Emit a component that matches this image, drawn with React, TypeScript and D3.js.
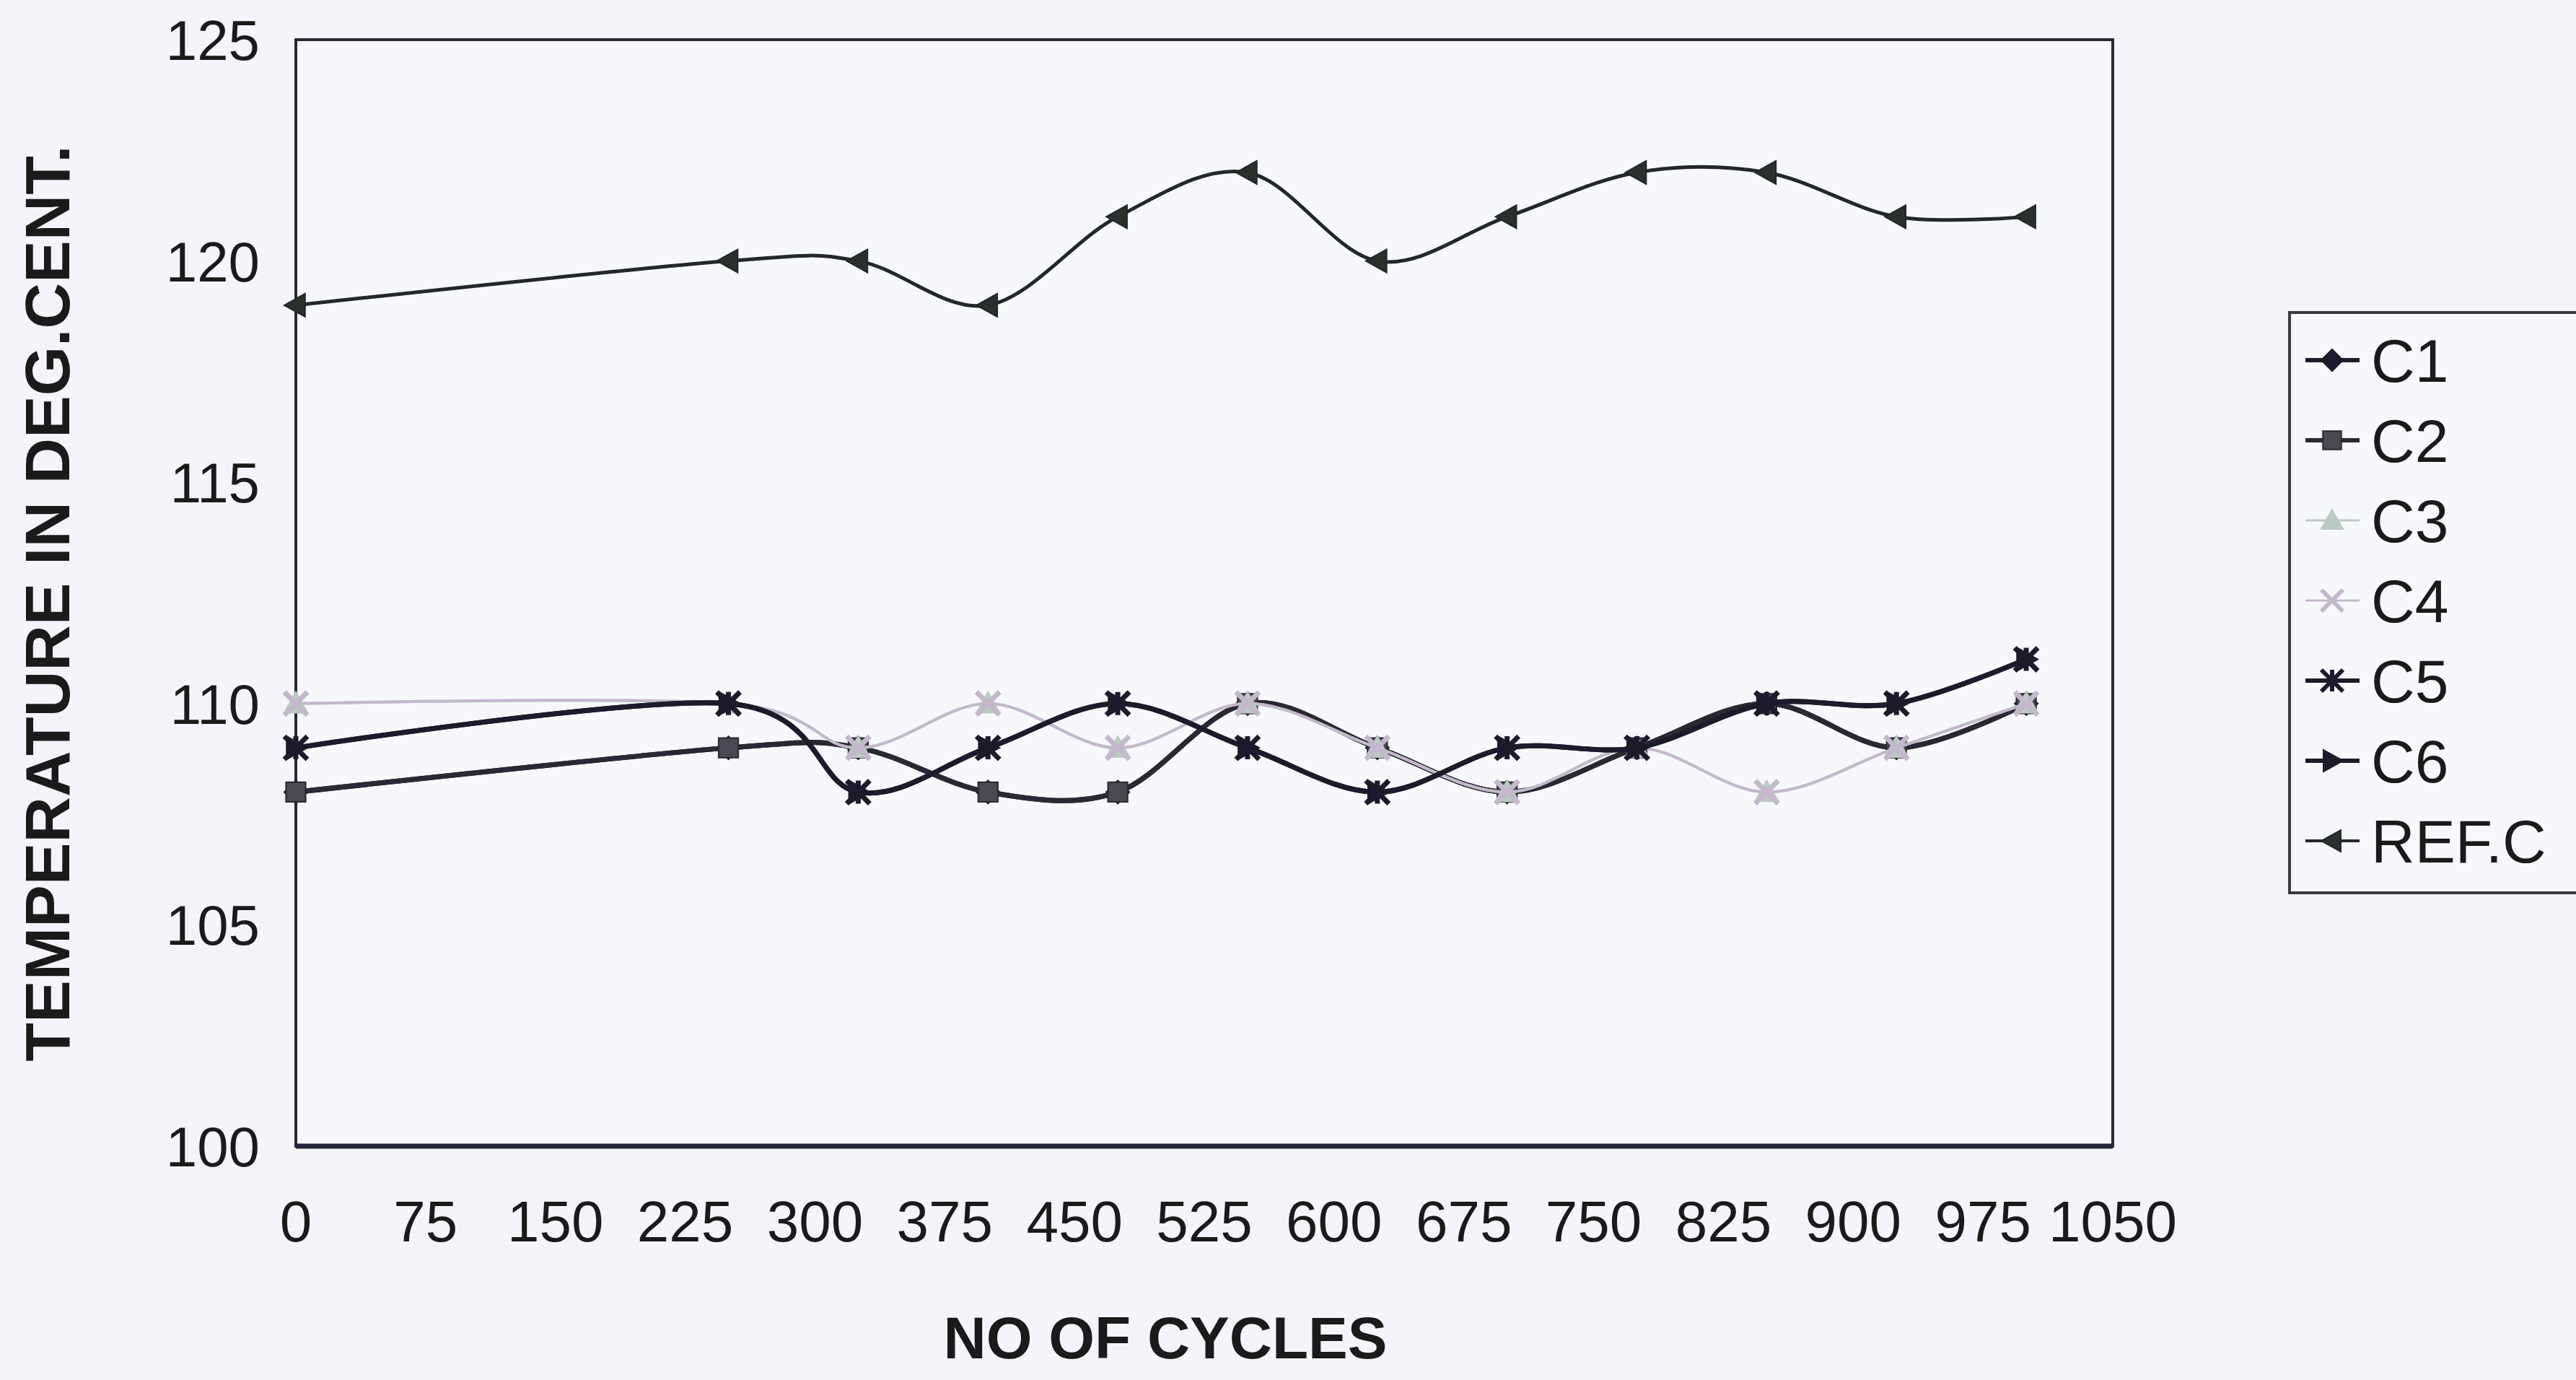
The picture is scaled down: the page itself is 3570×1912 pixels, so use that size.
import React, { useEffect, useRef } from 'react';
import * as d3 from 'd3';

// cycles at which readings were taken
const cycles = [0, 250, 325, 400, 475, 550, 625, 700, 775, 850, 925, 1000];
const xTicks = [0, 75, 150, 225, 300, 375, 450, 525, 600, 675, 750, 825, 900, 975, 1050];
const yTicks = [100, 105, 110, 115, 120, 125];

// temperature readings (deg C)
const c1 = [108, 109, 109, 108, 108, 110, 109, 108, 109, 110, 109, 110];
const c2 = [108, 109, 109, 108, 108, 110, 109, 108, 109, 110, 109, 110];
const c3 = [110, 110, 109, 110, 109, 110, 109, 108, 109, 108, 109, 110];
const c4 = [110, 110, 109, 110, 109, 110, 109, 108, 109, 108, 109, 110];
const c5 = [109, 110, 108, 109, 110, 109, 108, 109, 109, 110, 110, 111];
const c6 = [109, 110, 108, 109, 110, 109, 108, 109, 109, 110, 110, 111];
const refC = [119, 120, 120, 119, 121, 122, 120, 121, 122, 122, 121, 121];

const seriesNames = ['C1', 'C2', 'C3', 'C4', 'C5', 'C6', 'REF.C'];
const seriesValues = [c1, c2, c3, c4, c5, c6, refC];

const W = 3570;
const H = 1912;
const FONT = '"Liberation Sans", Arial, Helvetica, sans-serif';

type Marker = 'diamond' | 'square' | 'triangle' | 'x' | 'star' | 'right' | 'left';

const styles: { color: string; fill: string; width: number; marker: Marker }[] = [
  { color: '#1d1b2b', fill: '#1d1b2b', width: 7, marker: 'diamond' },
  { color: '#2a2833', fill: '#4a4850', width: 7, marker: 'square' },
  { color: '#bccac4', fill: '#bccac4', width: 4, marker: 'triangle' },
  { color: '#c4b8cc', fill: 'none', width: 4, marker: 'x' },
  { color: '#1d1b2b', fill: 'none', width: 7, marker: 'star' },
  { color: '#1d1b2b', fill: '#1d1b2b', width: 7, marker: 'right' },
  { color: '#23262a', fill: '#2b302c', width: 5, marker: 'left' },
];

const markerPath = (m: Marker, s: number) => {
  switch (m) {
    case 'diamond': return `M0,${-s}L${s},0L0,${s}L${-s},0Z`;
    case 'square': return `M${-s * 0.85},${-s * 0.85}H${s * 0.85}V${s * 0.85}H${-s * 0.85}Z`;
    case 'triangle': return `M0,${-s}L${s},${s * 0.8}L${-s},${s * 0.8}Z`;
    case 'x': return `M${-s},${-s}L${s},${s}M${s},${-s}L${-s},${s}`;
    case 'star': return `M${-s},${-s}L${s},${s}M${s},${-s}L${-s},${s}M0,${-s}V${s}`;
    case 'right': return `M${-s * 0.8},${-s}L${s},0L${-s * 0.8},${s}Z`;
    case 'left': return `M${s * 0.8},${-s}L${-s},0L${s * 0.8},${s}Z`;
  }
};

const isStroked = (m: Marker) => m === 'x' || m === 'star';

const App: React.FC = () => {
  const svgRef = useRef<SVGSVGElement>(null);

  useEffect(() => {
    document.body.style.margin = '0';
    if (!svgRef.current) return;
    const svg = d3.select(svgRef.current);
    svg.selectAll('*').remove();

    const plot = { left: 410, right: 2928, top: 55, bottom: 1588 };

    const x = d3.scaleLinear().domain([0, 1050]).range([plot.left, plot.right]);
    const y = d3.scaleLinear().domain([100, 125]).range([plot.bottom, plot.top]);

    svg.append('rect').attr('width', W).attr('height', H).attr('fill', '#f3f5fa');

    // plot frame
    const g = svg.append('g');
    g.append('rect')
      .attr('x', plot.left).attr('y', plot.top)
      .attr('width', plot.right - plot.left).attr('height', plot.bottom - plot.top)
      .attr('fill', '#f7f8fc')
      .attr('stroke', '#2a2a36').attr('stroke-width', 4);
    g.append('line')
      .attr('x1', plot.left).attr('x2', plot.right)
      .attr('y1', plot.bottom).attr('y2', plot.bottom)
      .attr('stroke', '#25243a').attr('stroke-width', 7);

    // y tick labels
    g.selectAll('text.ytick')
      .data(yTicks)
      .enter().append('text')
      .attr('class', 'ytick')
      .attr('x', plot.left - 50)
      .attr('y', d => y(d) + 28)
      .attr('text-anchor', 'end')
      .attr('font-family', FONT)
      .attr('font-size', 78)
      .attr('fill', '#1a1a1a')
      .text(d => d);

    // x tick labels
    g.selectAll('text.xtick')
      .data(xTicks)
      .enter().append('text')
      .attr('class', 'xtick')
      .attr('x', d => x(d))
      .attr('y', 1720)
      .attr('text-anchor', 'middle')
      .attr('font-family', FONT)
      .attr('font-size', 80)
      .attr('fill', '#1a1a1a')
      .text(d => d);

    // axis titles
    g.append('text')
      .attr('x', 1615).attr('y', 1882)
      .attr('text-anchor', 'middle')
      .attr('font-family', FONT).attr('font-weight', 'bold')
      .attr('font-size', 82).attr('fill', '#1a1a1a')
      .text('NO OF CYCLES');
    g.append('text')
      .attr('transform', 'translate(96,836) rotate(-90)')
      .attr('text-anchor', 'middle')
      .attr('font-family', FONT).attr('font-weight', 'bold')
      .attr('font-size', 88).attr('fill', '#1a1a1a')
      .text('TEMPERATURE IN DEG.CENT.');

    // series
    const line = d3.line<number>()
      .x((_, i) => x(cycles[i]))
      .y(d => y(d))
      .curve(d3.curveCardinal.tension(0));

    seriesValues.forEach((vals, si) => {
      const st = styles[si];
      const sg = g.append('g');
      sg.append('path')
        .attr('d', line(vals))
        .attr('fill', 'none')
        .attr('stroke', st.color)
        .attr('stroke-width', st.width)
        .attr('stroke-linejoin', 'round');
      sg.selectAll('path.mk')
        .data(vals)
        .enter().append('path')
        .attr('class', 'mk')
        .attr('transform', (d, i) => `translate(${x(cycles[i])},${y(d)})`)
        .attr('d', markerPath(st.marker, 16))
        .attr('fill', isStroked(st.marker) ? 'none' : st.fill)
        .attr('stroke', st.color)
        .attr('stroke-width', isStroked(st.marker) ? 7 : 2);
    });

    // legend
    const lg = svg.append('g');
    lg.append('rect')
      .attr('x', 3173).attr('y', 433)
      .attr('width', 500).attr('height', 804)
      .attr('fill', '#f7f8fc')
      .attr('stroke', '#3a3a44').attr('stroke-width', 4);
    seriesNames.forEach((name, i) => {
      const st = styles[i];
      const cy = 499 + i * 111;
      lg.append('line')
        .attr('x1', 3195).attr('x2', 3270)
        .attr('y1', cy).attr('y2', cy)
        .attr('stroke', st.color).attr('stroke-width', st.width - 1);
      lg.append('path')
        .attr('transform', `translate(3232,${cy})`)
        .attr('d', markerPath(st.marker, 15))
        .attr('fill', isStroked(st.marker) ? 'none' : st.fill)
        .attr('stroke', st.color)
        .attr('stroke-width', isStroked(st.marker) ? 6 : 2);
      lg.append('text')
        .attr('x', 3286).attr('y', cy + 30)
        .attr('font-family', FONT)
        .attr('font-size', 84)
        .attr('fill', '#1a1a1a')
        .text(name);
    });
  }, []);

  return (
    <svg
      ref={svgRef}
      width={W}
      height={H}
      viewBox={`0 0 ${W} ${H}`}
      style={{ position: 'fixed', top: 0, left: 0, display: 'block' }}
    />
  );
};

export default App;
